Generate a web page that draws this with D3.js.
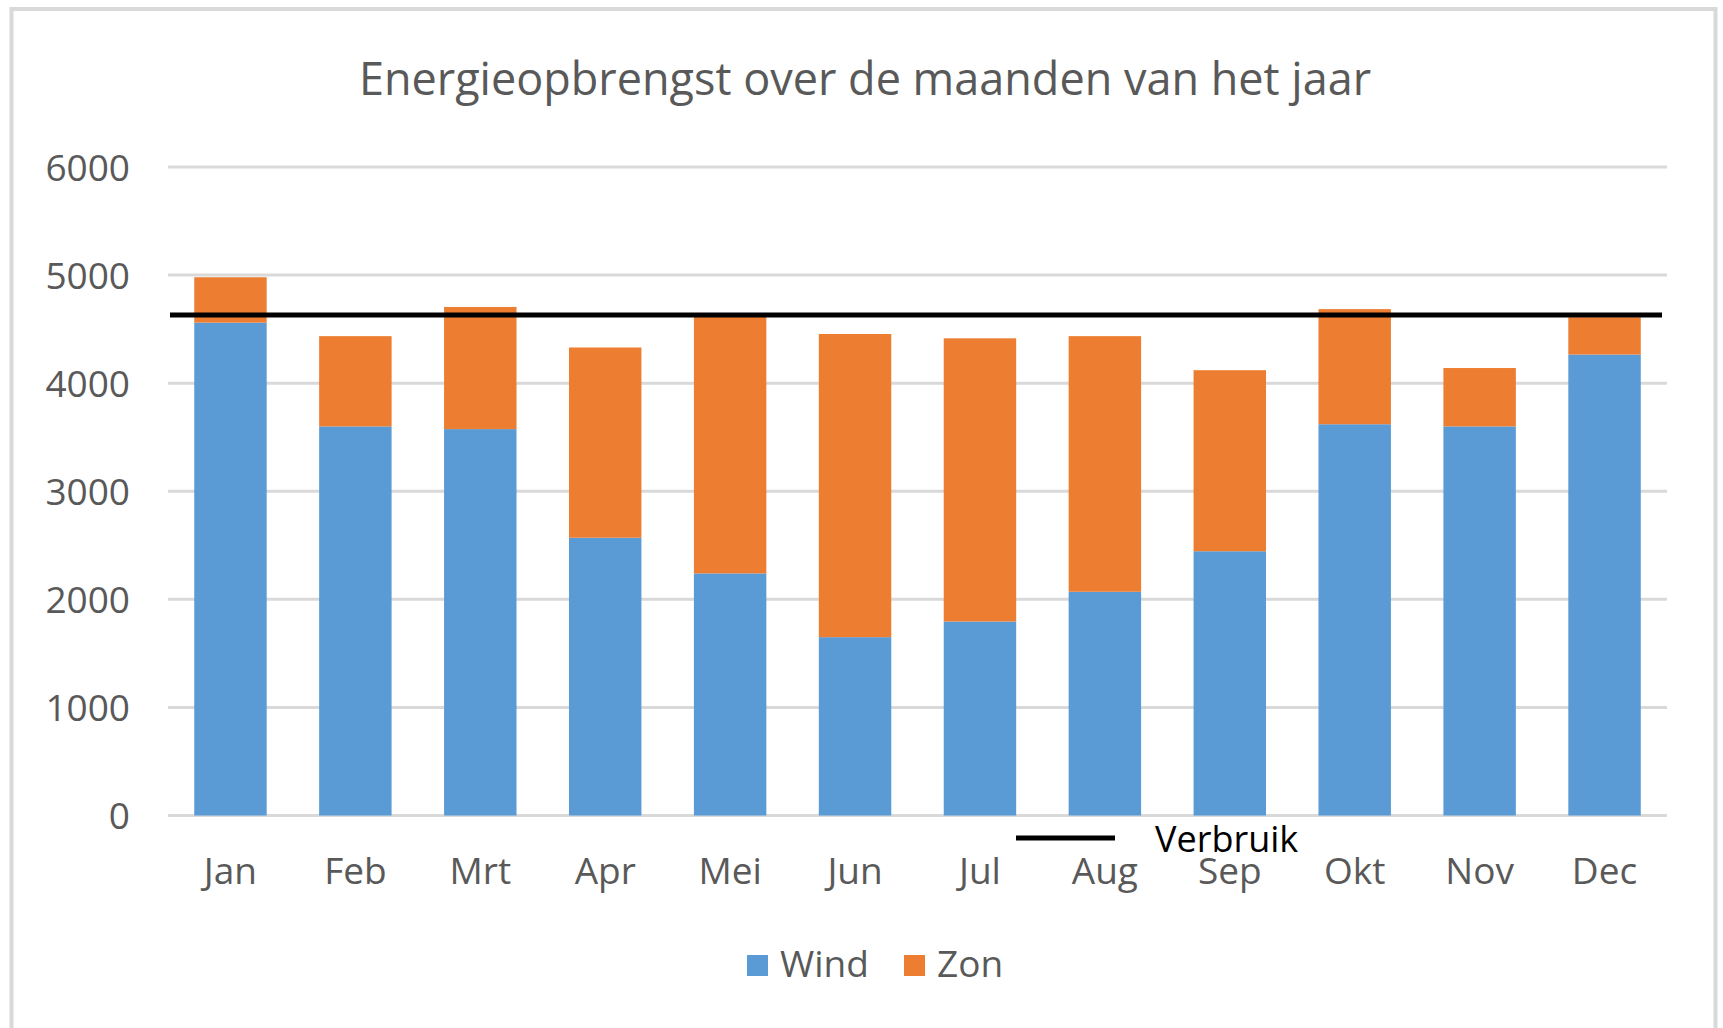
<!DOCTYPE html>
<html>
<head>
<meta charset="utf-8">
<script src="https://cdn.jsdelivr.net/npm/d3@7"></script>
<style>
  body { margin: 0; background: #fff; }
  text { font-family: "Open Sans", sans-serif; }
</style>
</head>
<body>
<svg id="chart" width="1723" height="1028"></svg>
<script>
// data
var months = ["Jan", "Feb", "Mrt", "Apr", "Mei", "Jun", "Jul", "Aug", "Sep", "Okt", "Nov", "Dec"];
var wind = [4560, 3600, 3575, 2570, 2240, 1650, 1795, 2070, 2445, 3620, 3600, 4265];
var zon = [420, 835, 1130, 1760, 2380, 2805, 2620, 2365, 1675, 1065, 540, 345];
var verbruik = 4630;
var yTicks = [0, 1000, 2000, 3000, 4000, 5000, 6000];

var svg = d3.select("#chart");
var W = 1723, H = 1028;

// outer frame
svg.append("rect")
  .attr("x", 11.5).attr("y", 9)
  .attr("width", 1704).attr("height", H + 20)
  .attr("fill", "#fff")
  .attr("stroke", "#d9d9d9")
  .attr("stroke-width", 4);

var x = d3.scaleBand()
  .domain(months)
  .range([168, 1667])
  .paddingInner(0.42)
  .paddingOuter(0.21);

var y = d3.scaleLinear()
  .domain([0, 6000])
  .range([815.5, 167]);

// gridlines
svg.append("g")
  .selectAll("line")
  .data(yTicks)
  .enter()
  .append("line")
  .attr("x1", 168).attr("x2", 1667)
  .attr("y1", function(d) { return y(d); })
  .attr("y2", function(d) { return y(d); })
  .attr("stroke", "#d9d9d9")
  .attr("stroke-width", 3);

// y axis labels
var yAxis = svg.append("g")
  .attr("transform", "translate(130,0)")
  .call(d3.axisLeft(y).tickValues(yTicks).tickSize(0).tickPadding(0).tickFormat(d3.format("d")));
yAxis.select(".domain").remove();
yAxis.selectAll("text")
  .attr("font-size", 37)
  .attr("font-family", "Open Sans")
  .attr("fill", "#595959")
  .attr("dy", "0.36em");

// stacked bars
var rows = months.map(function(m, i) { return { month: m, Wind: wind[i], Zon: zon[i] }; });
var stack = d3.stack().keys(["Wind", "Zon"]);
var colors = { Wind: "#5b9bd5", Zon: "#ed7d31" };

svg.append("g")
  .selectAll("g")
  .data(stack(rows))
  .enter()
  .append("g")
  .attr("fill", function(d) { return colors[d.key]; })
  .selectAll("rect")
  .data(function(d) { return d; })
  .enter()
  .append("rect")
  .attr("x", function(d) { return x(d.data.month); })
  .attr("width", x.bandwidth())
  .attr("y", function(d) { return y(d[1]); })
  .attr("height", function(d) { return y(d[0]) - y(d[1]); });

// x axis labels
var xAxis = svg.append("g")
  .attr("transform", "translate(0," + y(0) + ")")
  .call(d3.axisBottom(x).tickSize(0).tickPadding(0));
xAxis.select(".domain").remove();
xAxis.selectAll("text")
  .attr("font-size", 37)
  .attr("font-family", "Open Sans")
  .attr("fill", "#595959")
  .attr("dy", null)
  .attr("y", 68.5);

// verbruik line
svg.append("line")
  .attr("x1", 170).attr("x2", 1662)
  .attr("y1", y(verbruik)).attr("y2", y(verbruik))
  .attr("stroke", "#000")
  .attr("stroke-width", 5);

// verbruik legend
svg.append("line")
  .attr("x1", 1016).attr("x2", 1115)
  .attr("y1", 838).attr("y2", 838)
  .attr("stroke", "#000")
  .attr("stroke-width", 5);
svg.append("text")
  .attr("x", 1155).attr("y", 852)
  .attr("font-size", 36)
  .attr("fill", "#000")
  .text("Verbruik");

// title
svg.append("text")
  .attr("x", 865).attr("y", 95)
  .attr("text-anchor", "middle")
  .attr("font-size", 45)
  .attr("fill", "#595959")
  .text("Energieopbrengst over de maanden van het jaar");

// legend
var legend = [{ key: "Wind", x: 747 }, { key: "Zon", x: 904 }];
var lg = svg.append("g")
  .selectAll("g")
  .data(legend)
  .enter()
  .append("g")
  .attr("transform", function(d) { return "translate(" + d.x + ",0)"; });
lg.append("rect")
  .attr("x", 0).attr("y", 955)
  .attr("width", 21).attr("height", 21)
  .attr("fill", function(d) { return colors[d.key]; });
lg.append("text")
  .attr("x", 33).attr("y", 977)
  .attr("font-size", 37)
  .attr("fill", "#595959")
  .text(function(d) { return d.key; });
</script>
</body>
</html>
